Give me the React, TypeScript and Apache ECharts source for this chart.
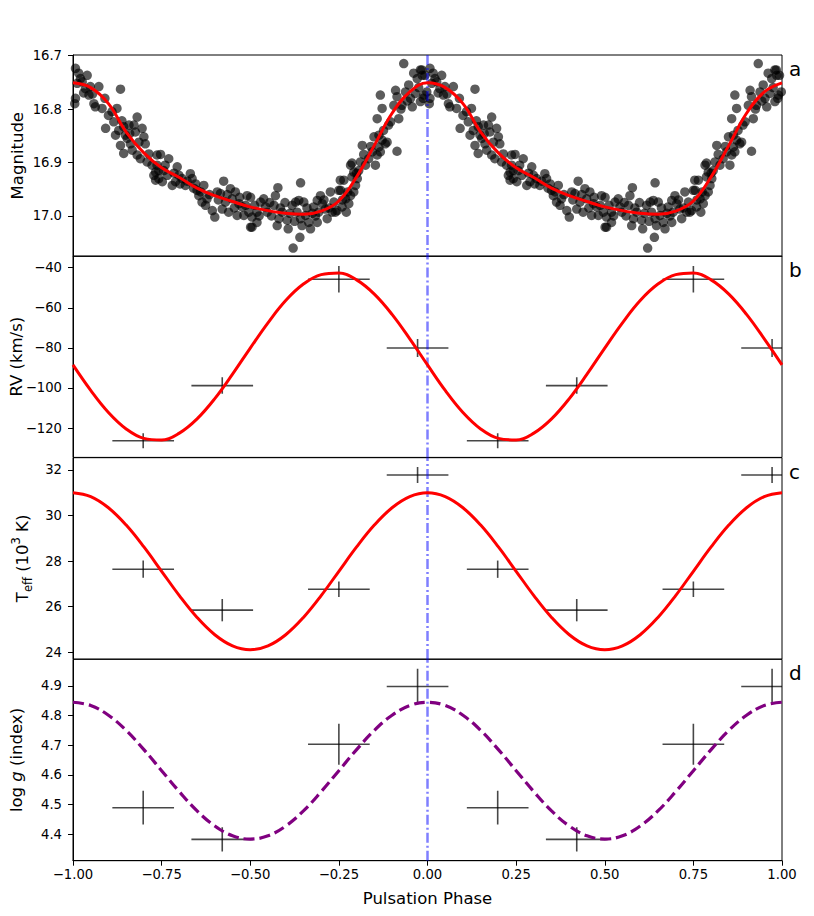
import React, { useEffect, useRef } from "react";
import * as echarts from "echarts";

// ---- data ----
const curvePhase = [0, 0.05, 0.1, 0.15, 0.2, 0.25, 0.3, 0.35, 0.4, 0.45, 0.5, 0.55, 0.6, 0.65, 0.7, 0.75, 0.8, 0.85, 0.9, 0.95, 1.0];
const magCurve = [16.751, 16.760, 16.790, 16.843, 16.882, 16.910, 16.928, 16.948, 16.962, 16.973, 16.983, 16.990, 16.995, 16.997, 16.991, 16.972, 16.927, 16.868, 16.808, 16.768, 16.751];
const rvCurve = [-88.5, -101.2, -112.2, -120.4, -125.1, -125.9, -122.5, -115.4, -105.3, -93.1, -80.1, -67.5, -56.4, -48.2, -43.5, -42.7, -46.1, -53.2, -63.3, -75.5, -88.5];
const teffCurve = [31.0, 30.83, 30.34, 29.58, 28.62, 27.55, 26.48, 25.52, 24.76, 24.27, 24.1, 24.27, 24.76, 25.52, 26.48, 27.55, 28.62, 29.58, 30.34, 30.83, 31.0];
const loggCurve = [4.845, 4.834, 4.801, 4.75, 4.685, 4.614, 4.543, 4.478, 4.427, 4.394, 4.383, 4.394, 4.427, 4.478, 4.543, 4.614, 4.685, 4.75, 4.801, 4.834, 4.845];

const obsPhase = [0.198, 0.421, 0.75, 0.972];
const phaseErr = [0.087, 0.087, 0.087, 0.087];
const rvObs = [-126.3, -98.8, -45.8, -80.1];
const rvErr = [3.7, 4.1, 6.6, 4.5];
const teffObs = [27.64, 25.84, 26.76, 31.78];
const teffErr = [0.38, 0.49, 0.34, 0.35];
const loggObs = [4.489, 4.382, 4.703, 4.898];
const loggErr = [0.057, 0.041, 0.069, 0.06];

const zeroPhase = 0;
const magRange = [16.699, 17.0756];
const rvRange = [-134.6, -34.2];
const teffRange = [23.69, 32.54];
const loggRange = [4.31, 4.99];

const magTicks = [16.7, 16.8, 16.9, 17.0];
const rvTicks = [-120, -100, -80, -60, -40];
const teffTicks = [24, 26, 28, 30, 32];
const loggTicks = [4.4, 4.5, 4.6, 4.7, 4.8, 4.9];
const panelLetters = ["a", "b", "c", "d"];

// photometric points over one cycle: [phase, magnitude]
const magPoints: [number, number][] = [
  [0.984, 16.727], [0.993, 16.737], [0.007, 16.724], [0.016, 16.733], [0.021, 16.743], [0.04, 16.737],
  [0.998, 16.768], [0.988, 16.78], [0.007, 16.78], [0.005, 16.79], [0.026, 16.749], [0.035, 16.762],
  [0.049, 16.758], [0.045, 16.774], [0.073, 16.758], [0.134, 16.763], [0.059, 16.79], [0.063, 16.796],
  [0.082, 16.799], [0.09, 16.78], [0.092, 16.836], [0.11, 16.805], [0.124, 16.799], [0.115, 16.824],
  [0.129, 16.84], [0.12, 16.849], [0.143, 16.833], [0.134, 16.868], [0.143, 16.883], [0.153, 16.855],
  [0.162, 16.865], [0.167, 16.877], [0.176, 16.843], [0.181, 16.815], [0.195, 16.836], [0.2, 16.852],
  [0.204, 16.865], [0.181, 16.886], [0.19, 16.893], [0.209, 16.899], [0.223, 16.905], [0.237, 16.886],
  [0.228, 16.924], [0.242, 16.915], [0.233, 16.933], [0.158, 16.83], [0.172, 16.83], [0.148, 16.849],
  [0.247, 16.885], [0.27, 16.893], [0.237, 16.905], [0.233, 16.918], [0.242, 16.93], [0.256, 16.915],
  [0.266, 16.924], [0.252, 16.936], [0.28, 16.943], [0.294, 16.908], [0.299, 16.924], [0.289, 16.936],
  [0.308, 16.93], [0.317, 16.943], [0.331, 16.921], [0.336, 16.93], [0.346, 16.94], [0.35, 16.952],
  [0.369, 16.943], [0.355, 16.962], [0.364, 16.974], [0.378, 16.968], [0.374, 16.98], [0.393, 16.99],
  [0.4, 17.002], [0.407, 16.955], [0.416, 16.958], [0.425, 16.935], [0.43, 16.974], [0.444, 16.949],
  [0.449, 16.968], [0.458, 16.955], [0.468, 16.977], [0.463, 16.999], [0.477, 16.983], [0.482, 16.999],
  [0.491, 16.962], [0.496, 16.993], [0.501, 17.021], [0.421, 16.987], [0.439, 16.993],
  [0.501, 16.965], [0.487, 16.98], [0.505, 17.002], [0.519, 16.993], [0.529, 16.974], [0.538, 16.968],
  [0.543, 16.983], [0.505, 17.021], [0.519, 17.012], [0.548, 16.993], [0.567, 16.98], [0.571, 16.962],
  [0.578, 16.947], [0.581, 17.005], [0.576, 17.018], [0.59, 16.993], [0.604, 17.008], [0.607, 17.024],
  [0.618, 16.98], [0.628, 16.974], [0.637, 16.971], [0.642, 16.938], [0.651, 16.974], [0.632, 16.993],
  [0.642, 17.005], [0.646, 17.018], [0.656, 16.999], [0.665, 17.012], [0.67, 17.024], [0.64, 17.04],
  [0.621, 17.06], [0.679, 16.983], [0.689, 16.971], [0.698, 16.962], [0.703, 16.977], [0.693, 16.993],
  [0.712, 16.987], [0.717, 17.005], [0.689, 17.012], [0.726, 16.955], [0.736, 16.974], [0.74, 16.993],
  [0.75, 16.952], [0.754, 16.933], [0.731, 16.993],
  [0.745, 16.99], [0.759, 16.983], [0.771, 16.993], [0.778, 16.977], [0.769, 16.968], [0.755, 16.952],
  [0.764, 16.933], [0.783, 16.962], [0.792, 16.955], [0.797, 16.943], [0.787, 16.927], [0.802, 16.93],
  [0.806, 16.915], [0.792, 16.918], [0.783, 16.905], [0.787, 16.901], [0.811, 16.899], [0.816, 16.868],
  [0.825, 16.905], [0.834, 16.893], [0.844, 16.88], [0.849, 16.852], [0.853, 16.905], [0.858, 16.886],
  [0.863, 16.871], [0.867, 16.88], [0.872, 16.858], [0.881, 16.865], [0.886, 16.862], [0.914, 16.879],
  [0.867, 16.774], [0.858, 16.818], [0.863, 16.849], [0.872, 16.799], [0.896, 16.824], [0.905, 16.793],
  [0.919, 16.818], [0.91, 16.765], [0.914, 16.777], [0.928, 16.793], [0.938, 16.768], [0.933, 16.715],
  [0.947, 16.755], [0.957, 16.796], [0.961, 16.733], [0.971, 16.743], [0.98, 16.727], [0.985, 16.737],
  [0.98, 16.786], [0.99, 16.774], [0.966, 16.771], [0.952, 16.78],
  // additional points in the dense parts of the light curve
  [0.012, 16.752], [0.03, 16.77], [0.055, 16.772], [0.1, 16.812], [0.138, 16.822], [0.16, 16.846],
  [0.186, 16.862], [0.214, 16.884], [0.26, 16.905], [0.285, 16.92], [0.302, 16.94], [0.322, 16.935],
  [0.34, 16.948], [0.36, 16.955], [0.385, 16.96], [0.41, 16.97], [0.435, 16.96], [0.455, 16.985],
  [0.47, 16.965], [0.512, 16.98], [0.525, 17.0], [0.555, 16.975], [0.56, 17.0], [0.585, 16.985],
  [0.598, 16.975], [0.612, 16.995], [0.625, 17.01], [0.66, 16.985], [0.675, 16.995], [0.684, 17.0],
  [0.708, 16.97], [0.722, 16.985], [0.76, 16.97], [0.775, 16.955], [0.8, 16.92], [0.82, 16.885],
  [0.84, 16.87], [0.876, 16.84], [0.89, 16.83], [0.925, 16.8], [0.943, 16.785], [0.975, 16.76],
];

// ---- helpers ----
const FONT = "DejaVu Sans";
const MINUS = "\u2212";
const fmt = (v: number, d: number) => (v < 0 ? MINUS : "") + Math.abs(v).toFixed(d);

const twoCycles = (vals: number[]) => [
  ...curvePhase.map((p, k) => [p - 1, vals[k]]),
  ...curvePhase.slice(1).map((p, k) => [p, vals[k + 1]]),
];
const crosses = (vals: number[], errs: number[]) => {
  const out: number[][] = [];
  obsPhase.forEach((p, i) => {
    out.push([p - 1, vals[i], phaseErr[i], errs[i]]);
    out.push([p, vals[i], phaseErr[i], errs[i]]);
  });
  return out;
};

const GRID_TOPS = [55, 256, 457.7, 659.3];
const GRID_H = 201.4;

export default function App() {
  const ref = useRef<HTMLDivElement>(null);
  useEffect(() => {
    if (!ref.current) return;
    const chart = echarts.init(ref.current, null, { renderer: "svg" });

    const renderCross = (params: any, api: any) => {
      const x = api.value(0), y = api.value(1), ex = api.value(2), ey = api.value(3);
      const l = api.coord([x - ex, y]);
      const r = api.coord([x + ex, y]);
      const t = api.coord([x, y + ey]);
      const b = api.coord([x, y - ey]);
      const st = { stroke: "rgba(0,0,0,0.72)", lineWidth: 1.6 };
      return {
        type: "group",
        children: [
          { type: "line", shape: { x1: l[0], y1: l[1], x2: r[0], y2: r[1] }, style: st },
          { type: "line", shape: { x1: t[0], y1: t[1], x2: b[0], y2: b[1] }, style: st },
        ],
      };
    };

    const xAxes = [0, 1, 2, 3].map((i) => ({
      type: "value",
      gridIndex: i,
      min: -1,
      max: 1,
      interval: 0.25,
      axisLine: { show: i === 3, onZero: false, lineStyle: { color: "#000", width: 1 } },
      axisTick: { show: i === 3, length: 5, lineStyle: { color: "#000", width: 1 } },
      axisLabel: {
        show: i === 3,
        color: "#000",
        fontFamily: FONT,
        fontSize: 13.2,
        margin: 7,
        formatter: (v: number) => fmt(v, 2),
      },
      splitLine: { show: false },
      name: i === 3 ? "Pulsation Phase" : "",
      nameLocation: "middle",
      nameGap: 29,
      nameMoveOverlap: false,
      nameTextStyle: { color: "#000", fontFamily: FONT, fontSize: 16.5 },
    }));

    const yBase = (i: number, ticks: number[], digits: number, range: number[], name: string, gap: number, extra: any = {}) => ({
      type: "value",
      gridIndex: i,
      min: range[0],
      max: range[1],
      axisLine: { show: true, onZero: false, lineStyle: { color: "#000", width: 1 } },
      axisTick: { show: true, length: 5, customValues: ticks, lineStyle: { color: "#000", width: 1 } },
      axisLabel: {
        color: "#000",
        fontFamily: FONT,
        fontSize: 13.2,
        margin: 11,
        customValues: ticks,
        formatter: (v: number) => fmt(v, digits),
      },
      splitLine: { show: false },
      name,
      nameLocation: "middle",
      nameGap: gap,
      nameMoveOverlap: false,
      nameTextStyle: { color: "#000", fontFamily: FONT, fontSize: 16.5, ...(extra.nameTextStyle || {}) },
      ...(extra.axis || {}),
    });

    const yAxes = [
      yBase(0, magTicks, 1, magRange, "Magnitude", 47, { axis: { inverse: true } }),
      yBase(1, rvTicks, 0, rvRange, "RV (km/s)", 48),
      yBase(2, teffTicks, 0, teffRange, "{n|T}{s|eff}{n| (10}{p|3}{n| K)}", 39, {
        nameTextStyle: {
          rich: {
            n: { fontSize: 16.5, fontFamily: FONT, color: "#000", lineHeight: 24 },
            s: { fontSize: 11.5, fontFamily: FONT, color: "#000", lineHeight: 12, verticalAlign: "bottom" },
            p: { fontSize: 11.5, fontFamily: FONT, color: "#000", lineHeight: 12, verticalAlign: "top" },
          },
        },
      }),
      yBase(3, loggTicks, 1, loggRange, "{n|log }{i|g}{n| (index)}", 48, {
        nameTextStyle: {
          rich: {
            n: { fontSize: 16.5, fontFamily: FONT, color: "#000" },
            i: { fontSize: 16.5, fontFamily: FONT, color: "#000", fontStyle: "italic" },
          },
        },
      }),
    ];

    const magScatter: number[][] = [];
    magPoints.forEach(([p, m]) => {
      magScatter.push([p - 1, m]);
      magScatter.push([p, m]);
    });

    const curveSeries = (i: number, vals: number[], color: string, dashed: boolean) => ({
      type: "line",
      xAxisIndex: i,
      yAxisIndex: i,
      data: twoCycles(vals),
      smooth: 0.4,
      showSymbol: false,
      symbol: "none",
      silent: true,
      z: 5,
      lineStyle: { color, width: dashed ? 3.2 : 3, type: dashed ? [11, 5] : "solid" },
    });

    const zeroLine = (i: number, range: number[]) => ({
      type: "line",
      xAxisIndex: i,
      yAxisIndex: i,
      data: [[zeroPhase, range[0]], [zeroPhase, range[1]]],
      showSymbol: false,
      symbol: "none",
      silent: true,
      z: 4,
      lineStyle: { color: "rgba(0,0,255,0.5)", width: 2.5, type: [10, 3, 2, 3] },
    });

    const crossSeries = (i: number, vals: number[], errs: number[]) => ({
      type: "custom",
      xAxisIndex: i,
      yAxisIndex: i,
      clip: true,
      silent: true,
      z: 3,
      data: crosses(vals, errs),
      encode: { x: 0, y: 1 },
      renderItem: renderCross,
    });

    const option: any = {
      animation: false,
      backgroundColor: "#fff",
      grid: GRID_TOPS.map((t) => ({
        left: 73,
        right: 32,
        top: t,
        height: GRID_H,
        containLabel: false,
        outerBoundsMode: "none",
        show: true,
        borderColor: "#000",
        borderWidth: 1,
        backgroundColor: "transparent",
      })),
      xAxis: xAxes,
      yAxis: yAxes,
      graphic: panelLetters.map((s, i) => ({
        type: "text",
        left: 789,
        top: GRID_TOPS[i] + 4,
        style: { text: s, fontFamily: FONT, fontSize: 20, fill: "#000" },
      })),
      series: [
        {
          type: "scatter",
          xAxisIndex: 0,
          yAxisIndex: 0,
          data: magScatter,
          symbolSize: 9.5,
          silent: true,
          z: 2,
          itemStyle: { color: "rgba(0,0,0,0.8)" },
        },
        zeroLine(0, magRange),
        curveSeries(0, magCurve, "#ff0000", false),
        crossSeries(1, rvObs, rvErr),
        zeroLine(1, rvRange),
        curveSeries(1, rvCurve, "#ff0000", false),
        crossSeries(2, teffObs, teffErr),
        zeroLine(2, teffRange),
        curveSeries(2, teffCurve, "#ff0000", false),
        crossSeries(3, loggObs, loggErr),
        zeroLine(3, loggRange),
        curveSeries(3, loggCurve, "#800080", true),
      ],
    };
    chart.setOption(option);
    return () => chart.dispose();
  }, []);

  return (
    <div
      ref={ref}
      style={{ position: "fixed", left: 0, top: 0, width: 814, height: 916, background: "#fff" }}
    />
  );
}
